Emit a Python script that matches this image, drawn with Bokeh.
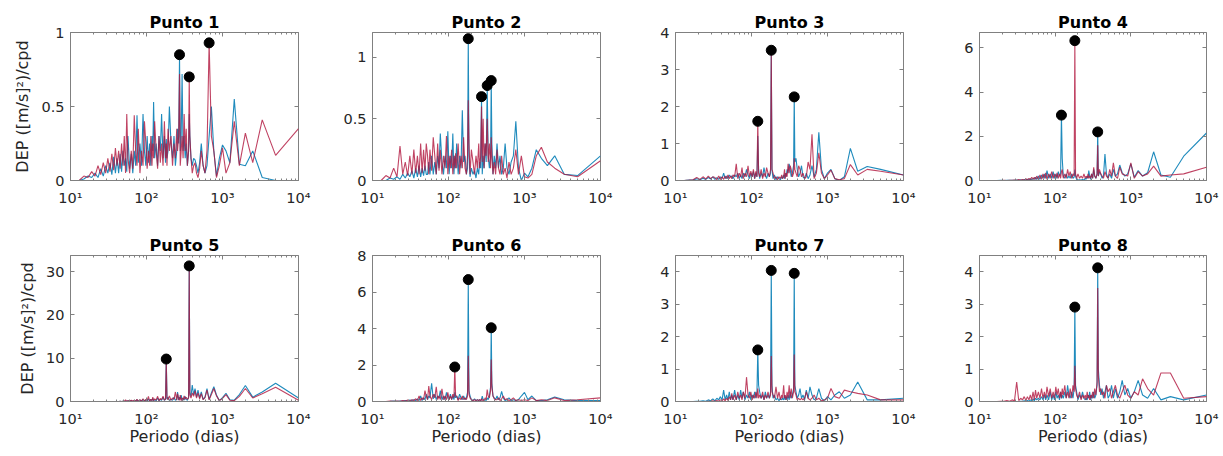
from bokeh.plotting import figure
from bokeh.layouts import column, row
from bokeh.models import Range1d, FixedTicker, LogAxis, LinearAxis, NumeralTickFormatter, CustomJSTickFormatter
from bokeh.embed import file_html
from bokeh.resources import INLINE

# Periodos (dias), mismos para todas las series
periodo = [10000, 5000, 3333, 2500, 2000, 1667, 1429, 1250, 1111, 1000, 909, 833, 769, 714, 667, 625, 588, 556, 526, 500,
           476, 455, 435, 417, 400, 385, 372, 365, 358, 345, 333, 323, 313, 303, 294, 286, 278, 272, 265, 256,
           250, 240, 230, 220, 210, 200, 192, 186, 182, 178, 172, 165, 158, 152, 146, 140, 134, 128, 124, 121,
           118, 114, 110, 106, 102, 98, 94, 90, 86, 82, 78, 75, 72, 69, 66, 63, 60, 57, 55, 53,
           51, 49, 47, 45, 43, 41, 39, 37, 35, 33, 31, 29, 27, 25, 23, 21, 19, 17, 15, 13]

titulos = ["Punto 1", "Punto 2", "Punto 3", "Punto 4", "Punto 5", "Punto 6", "Punto 7", "Punto 8"]
x_ticks = [10, 100, 1000, 10000]
x_tick_labels = ["10¹", "10²", "10³", "10⁴"]
y_maximos = [1.0, 1.2, 4.0, 6.7, 33.7, 8.0, 4.5, 4.5]
y_ticks = [[0, 0.5, 1], [0, 0.5, 1], [0, 1, 2, 3, 4], [0, 2, 4, 6], [0, 10, 20, 30], [0, 2, 4, 6, 8], [0, 1, 2, 3, 4], [0, 1, 2, 3, 4]]

azul_1 = [0.0, 0.0, 0.02, 0.2, 0.1, 0.11, 0.55, 0.12, 0.2, 0.24, 0.15, 0.03, 0.2, 0.5, 0.3, 0.1, 0.05, 0.1, 0.25, 0.12,
          0.05, 0.1, 0.14, 0.15, 0.1, 0.15, 0.3, 0.45, 0.2, 0.1, 0.25, 0.15, 0.3, 0.2, 0.72, 0.3, 0.2, 0.85, 0.25, 0.35,
          0.2, 0.1, 0.3, 0.15, 0.25, 0.5, 0.2, 0.15, 0.28, 0.12, 0.3, 0.15, 0.45, 0.2, 0.3, 0.1, 0.25, 0.15, 0.53, 0.2,
          0.3, 0.1, 0.25, 0.12, 0.3, 0.1, 0.2, 0.45, 0.1, 0.25, 0.12, 0.44, 0.1, 0.2, 0.05, 0.18, 0.08, 0.3, 0.06, 0.15,
          0.1, 0.2, 0.06, 0.18, 0.05, 0.15, 0.05, 0.16, 0.04, 0.12, 0.05, 0.1, 0.03, 0.08, 0.02, 0.05, 0.02, 0.03, 0.01, 0.0]
rojo_1 = [0.35, 0.17, 0.41, 0.12, 0.32, 0.1, 0.4, 0.12, 0.05, 0.22, 0.1, 0.02, 0.2, 0.3, 0.93, 0.2, 0.05, 0.1, 0.2, 0.08,
          0.02, 0.05, 0.12, 0.1, 0.05, 0.15, 0.3, 0.7, 0.2, 0.1, 0.35, 0.2, 0.45, 0.15, 0.3, 0.2, 0.1, 0.72, 0.3, 0.2,
          0.35, 0.15, 0.25, 0.1, 0.3, 0.2, 0.35, 0.1, 0.25, 0.15, 0.4, 0.1, 0.25, 0.12, 0.3, 0.08, 0.2, 0.4, 0.15, 0.25,
          0.1, 0.3, 0.1, 0.2, 0.08, 0.25, 0.4, 0.1, 0.2, 0.05, 0.35, 0.1, 0.2, 0.44, 0.08, 0.2, 0.05, 0.15, 0.45, 0.05,
          0.3, 0.1, 0.25, 0.08, 0.2, 0.1, 0.22, 0.07, 0.18, 0.06, 0.15, 0.05, 0.12, 0.04, 0.1, 0.03, 0.06, 0.02, 0.03, 0.0]

azul_2 = [0.2, 0.04, 0.05, 0.2, 0.12, 0.18, 0.25, 0.1, 0.03, 0.06, 0.0, 0.1, 0.48, 0.2, 0.15, 0.05, 0.1, 0.3, 0.1, 0.05,
          0.2, 0.1, 0.3, 0.1, 0.2, 0.05, 0.3, 0.81, 0.2, 0.1, 0.2, 0.77, 0.15, 0.3, 0.1, 0.2, 0.05, 0.68, 0.1, 0.15,
          0.05, 0.1, 0.02, 0.08, 0.05, 0.1, 0.03, 0.2, 1.15, 0.1, 0.05, 0.2, 0.15, 0.57, 0.1, 0.2, 0.05, 0.3, 0.1, 0.2,
          0.05, 0.38, 0.1, 0.2, 0.05, 0.4, 0.1, 0.2, 0.05, 0.15, 0.38, 0.1, 0.2, 0.05, 0.15, 0.05, 0.2, 0.05, 0.15, 0.05,
          0.05, 0.12, 0.04, 0.1, 0.03, 0.12, 0.03, 0.1, 0.02, 0.08, 0.03, 0.06, 0.02, 0.05, 0.01, 0.03, 0.01, 0.02, 0.0, 0.0]
rojo_2 = [0.16, 0.03, 0.05, 0.1, 0.15, 0.27, 0.2, 0.05, 0.02, 0.03, 0.2, 0.05, 0.25, 0.1, 0.05, 0.15, 0.02, 0.1, 0.05, 0.2,
          0.05, 0.1, 0.25, 0.05, 0.15, 0.05, 0.2, 0.35, 0.1, 0.3, 0.15, 0.5, 0.2, 0.3, 0.1, 0.5, 0.15, 0.6, 0.2, 0.1,
          0.3, 0.1, 0.2, 0.05, 0.15, 0.25, 0.05, 0.3, 0.65, 0.2, 0.05, 0.1, 0.35, 0.1, 0.2, 0.05, 0.3, 0.1, 0.22, 0.1,
          0.2, 0.05, 0.25, 0.1, 0.2, 0.05, 0.36, 0.1, 0.2, 0.05, 0.25, 0.08, 0.3, 0.05, 0.2, 0.35, 0.08, 0.25, 0.05, 0.2,
          0.3, 0.08, 0.25, 0.06, 0.3, 0.05, 0.2, 0.06, 0.25, 0.05, 0.2, 0.04, 0.15, 0.05, 0.28, 0.03, 0.1, 0.02, 0.04, 0.0]

azul_3 = [0.15, 0.3, 0.38, 0.25, 0.87, 0.1, 0.0, 0.05, 0.3, 0.2, 0.05, 0.3, 1.3, 0.3, 0.1, 0.4, 0.15, 0.05, 0.2, 0.05,
          0.1, 0.4, 0.2, 0.1, 0.3, 0.6, 0.5, 2.26, 0.4, 0.2, 0.1, 0.3, 0.45, 0.2, 0.3, 0.1, 0.2, 0.05, 0.15, 0.05,
          0.1, 0.02, 0.05, 0.1, 0.02, 0.15, 0.05, 0.3, 3.4, 0.2, 0.1, 0.2, 0.05, 0.15, 0.35, 0.1, 0.2, 0.05, 0.3, 1.2,
          0.1, 0.2, 0.05, 0.25, 0.1, 0.2, 0.05, 0.15, 0.3, 0.1, 0.2, 0.05, 0.15, 0.05, 0.2, 0.1, 0.15, 0.05, 0.12, 0.1,
          0.15, 0.05, 0.12, 0.05, 0.2, 0.05, 0.1, 0.03, 0.08, 0.03, 0.1, 0.04, 0.08, 0.03, 0.06, 0.02, 0.05, 0.01, 0.01, 0.0]
rojo_3 = [0.15, 0.25, 0.3, 0.15, 0.43, 0.05, 0.02, 0.05, 0.28, 0.15, 0.05, 0.2, 0.75, 0.2, 0.05, 1.25, 0.3, 0.5, 0.1, 0.05,
          0.2, 0.1, 0.3, 0.4, 0.1, 0.2, 0.3, 0.6, 0.2, 0.1, 0.3, 0.4, 0.2, 0.45, 0.1, 0.2, 0.05, 0.3, 0.1, 0.05,
          0.15, 0.05, 0.1, 0.02, 0.1, 0.05, 0.2, 0.3, 3.52, 0.3, 0.1, 0.2, 0.35, 0.1, 0.2, 0.05, 0.3, 0.1, 0.2, 1.6,
          0.1, 0.25, 0.05, 0.3, 0.1, 0.25, 0.1, 0.4, 0.1, 0.2, 0.05, 0.35, 0.1, 0.2, 0.05, 0.45, 0.1, 0.15, 0.05, 0.12,
          0.05, 0.15, 0.05, 0.12, 0.03, 0.1, 0.03, 0.12, 0.02, 0.08, 0.1, 0.05, 0.12, 0.04, 0.1, 0.03, 0.08, 0.02, 0.01, 0.0]

azul_4 = [2.15, 1.1, 0.15, 0.25, 1.3, 0.35, 0.2, 0.45, 0.15, 0.75, 0.3, 0.2, 0.35, 0.7, 0.3, 0.2, 0.5, 0.1, 0.3, 0.1,
          0.3, 1.2, 0.2, 0.1, 0.3, 0.4, 0.2, 2.2, 0.3, 0.1, 0.2, 0.5, 0.1, 0.3, 0.05, 0.2, 0.45, 0.1, 0.2, 0.05,
          0.1, 0.02, 0.05, 0.02, 0.03, 0.02, 0.05, 0.2, 0.5, 0.15, 0.1, 0.3, 0.1, 0.2, 0.1, 0.3, 0.1, 0.2, 1.0, 2.96,
          0.3, 0.2, 0.4, 0.1, 0.3, 0.1, 0.4, 0.1, 0.3, 0.1, 0.45, 0.1, 0.3, 0.1, 0.25, 0.05, 0.2, 0.05, 0.15, 0.05,
          0.1, 0.03, 0.08, 0.02, 0.06, 0.02, 0.04, 0.01, 0.03, 0.01, 0.02, 0.01, 0.01, 0.005, 0.01, 0.0, 0.005, 0.0, 0.0, 0.0]
rojo_4 = [0.6, 0.3, 0.25, 0.2, 0.65, 0.3, 0.2, 0.4, 0.1, 0.8, 0.2, 0.25, 0.3, 0.6, 0.1, 0.2, 0.8, 0.2, 0.5, 0.1,
          0.2, 0.4, 0.1, 0.2, 0.3, 0.5, 0.2, 1.6, 0.3, 0.1, 0.2, 0.6, 0.1, 0.3, 0.1, 0.2, 0.1, 0.3, 0.1, 0.2,
          0.1, 0.3, 0.1, 0.2, 0.1, 0.3, 0.1, 0.3, 6.33, 0.2, 0.3, 0.1, 0.4, 0.2, 0.5, 0.1, 0.3, 0.1, 0.5, 0.4,
          0.1, 0.3, 0.1, 0.35, 0.1, 0.3, 0.1, 0.4, 0.1, 0.3, 0.05, 0.35, 0.1, 0.3, 0.05, 0.25, 0.05, 0.2, 0.05, 0.15,
          0.05, 0.15, 0.03, 0.1, 0.02, 0.08, 0.01, 0.05, 0.01, 0.04, 0.01, 0.02, 0.005, 0.01, 0.0, 0.005, 0.0, 0.0, 0.0, 0.0]

azul_5 = [0.8, 4.2, 2.2, 1.0, 3.7, 1.6, 0.3, 0.4, 1.9, 0.9, 0.2, 1.5, 3.4, 2.0, 0.5, 3.0, 1.0, 0.5, 2.2, 0.8,
          2.6, 1.0, 3.0, 1.5, 3.8, 1.2, 2.0, 31.3, 1.0, 0.3, 0.5, 1.2, 0.3, 0.8, 0.2, 1.5, 0.5, 1.0, 0.3, 2.2,
          0.5, 0.3, 1.0, 0.3, 0.5, 0.2, 1.0, 0.5, 9.8, 0.5, 0.3, 1.0, 0.3, 0.5, 0.2, 0.8, 0.2, 0.4, 0.2, 0.7,
          0.2, 0.5, 0.1, 0.6, 0.1, 0.3, 0.1, 0.5, 0.1, 0.3, 0.05, 0.4, 0.1, 0.2, 0.05, 0.2, 0.05, 0.15, 0.05, 0.1,
          0.02, 0.05, 0.01, 0.02, 0.01, 0.01, 0.0, 0.0, 0.0, 0.0, 0.0, 0.0, 0.0, 0.0, 0.0, 0.0, 0.0, 0.0, 0.0, 0.0]
rojo_5 = [0.3, 3.3, 1.8, 0.8, 3.0, 1.2, 0.2, 0.3, 1.6, 0.7, 0.2, 1.3, 3.0, 1.6, 0.4, 2.6, 0.9, 0.4, 1.8, 0.6,
          2.0, 0.8, 2.5, 1.2, 2.0, 0.8, 1.5, 31.0, 0.8, 0.5, 1.0, 0.5, 1.3, 0.3, 0.8, 0.2, 1.5, 0.3, 0.6, 1.8,
          0.3, 2.2, 0.5, 0.8, 0.3, 1.3, 0.4, 0.8, 9.5, 0.6, 0.3, 1.2, 0.4, 0.7, 0.2, 1.2, 0.3, 0.6, 0.2, 1.0,
          0.2, 0.5, 0.1, 1.2, 0.2, 0.5, 0.1, 0.6, 0.1, 0.4, 0.05, 0.5, 0.1, 0.3, 0.05, 0.3, 0.05, 0.2, 0.05, 0.4,
          0.02, 0.05, 0.01, 0.02, 0.01, 0.0, 0.0, 0.0, 0.0, 0.0, 0.0, 0.0, 0.0, 0.0, 0.0, 0.0, 0.0, 0.0, 0.0, 0.0]

azul_6 = [0.05, 0.05, 0.1, 0.25, 0.1, 0.05, 0.05, 0.3, 0.1, 0.5, 0.3, 0.1, 0.05, 0.1, 0.05, 0.2, 0.1, 0.05, 0.2, 0.55,
          0.2, 0.1, 0.3, 0.1, 0.2, 0.3, 1.0, 4.04, 0.8, 0.3, 0.1, 0.2, 0.05, 0.1, 0.05, 0.1, 0.3, 0.1, 0.05, 0.1,
          0.05, 0.1, 0.05, 0.15, 0.05, 0.1, 0.3, 0.6, 6.68, 0.5, 0.2, 0.1, 0.3, 0.1, 0.2, 0.4, 0.1, 0.3, 0.2, 0.5,
          0.1, 0.3, 0.1, 0.4, 0.1, 0.2, 0.5, 0.1, 0.3, 0.1, 0.6, 0.2, 0.3, 0.1, 0.4, 0.15, 1.0, 0.2, 0.3, 0.1,
          0.4, 0.1, 0.2, 0.05, 0.3, 0.05, 0.15, 0.05, 0.1, 0.05, 0.08, 0.02, 0.05, 0.02, 0.03, 0.01, 0.02, 0.01, 0.0, 0.0]
rojo_6 = [0.2, 0.1, 0.05, 0.2, 0.05, 0.1, 0.05, 0.2, 0.05, 0.1, 0.05, 0.1, 0.05, 0.2, 0.1, 0.05, 0.15, 0.1, 0.3, 0.15,
          0.05, 0.2, 0.1, 0.1, 0.15, 0.3, 0.8, 2.3, 0.6, 0.2, 0.3, 0.65, 0.1, 0.2, 0.05, 0.1, 0.05, 0.15, 0.05, 0.1,
          0.05, 0.1, 0.05, 0.1, 0.05, 0.1, 0.2, 0.4, 2.5, 0.3, 0.1, 0.2, 0.1, 0.3, 0.1, 0.2, 0.05, 0.3, 0.3, 1.89,
          0.2, 0.4, 0.1, 0.3, 0.1, 0.5, 0.1, 0.3, 0.1, 0.7, 0.1, 0.3, 0.1, 0.8, 0.2, 0.4, 0.1, 0.3, 0.85, 0.1,
          0.3, 0.6, 0.1, 0.2, 0.05, 0.3, 0.05, 0.15, 0.05, 0.1, 0.02, 0.08, 0.02, 0.05, 0.01, 0.03, 0.01, 0.02, 0.0, 0.0]

azul_7 = [0.1, 0.05, 0.05, 0.6, 0.2, 0.1, 0.3, 0.2, 0.05, 0.15, 0.02, 0.1, 0.4, 0.1, 0.05, 0.2, 0.45, 0.1, 0.35, 0.05,
          0.2, 0.1, 0.4, 0.2, 0.1, 0.3, 0.5, 3.95, 0.4, 0.2, 0.1, 0.3, 0.05, 0.2, 0.05, 0.15, 0.05, 0.2, 0.05, 0.1,
          0.05, 0.1, 0.02, 0.1, 0.05, 0.2, 0.1, 0.5, 4.04, 0.3, 0.1, 0.2, 0.1, 0.3, 0.05, 0.2, 0.1, 0.3, 0.5, 1.59,
          0.3, 0.1, 0.3, 0.1, 0.2, 0.05, 0.3, 0.1, 0.2, 0.05, 0.3, 0.1, 0.35, 0.05, 0.2, 0.05, 0.35, 0.05, 0.2, 0.05,
          0.3, 0.05, 0.2, 0.05, 0.35, 0.05, 0.15, 0.05, 0.1, 0.02, 0.08, 0.02, 0.05, 0.01, 0.02, 0.01, 0.01, 0.0, 0.0, 0.0]
rojo_7 = [0.05, 0.05, 0.2, 0.25, 0.3, 0.35, 0.1, 0.15, 0.4, 0.1, 0.05, 0.02, 0.1, 0.05, 0.2, 0.1, 0.05, 0.1, 0.3, 0.1,
          0.05, 0.1, 0.05, 0.1, 0.05, 0.2, 0.3, 1.45, 0.3, 0.1, 0.4, 0.1, 0.5, 0.1, 0.3, 0.05, 0.2, 0.1, 0.5, 0.1,
          0.2, 0.05, 0.3, 0.1, 0.45, 0.1, 0.2, 0.3, 1.4, 0.2, 0.1, 0.3, 0.1, 0.2, 0.05, 0.3, 0.1, 0.2, 0.1, 0.4,
          0.1, 0.3, 0.1, 0.2, 0.05, 0.3, 0.1, 0.2, 0.75, 0.1, 0.3, 0.05, 0.2, 0.1, 0.3, 0.05, 0.2, 0.05, 0.25, 0.05,
          0.15, 0.03, 0.1, 0.02, 0.08, 0.02, 0.05, 0.01, 0.03, 0.01, 0.02, 0.0, 0.01, 0.0, 0.0, 0.0, 0.0, 0.0, 0.0, 0.0]

azul_8 = [0.2, 0.05, 0.15, 0.05, 0.4, 0.1, 0.2, 0.65, 0.3, 0.1, 0.4, 0.2, 0.65, 0.3, 0.1, 0.4, 0.1, 0.5, 0.2, 0.1,
          0.5, 0.3, 0.1, 0.4, 0.2, 0.5, 1.0, 4.12, 0.5, 0.2, 0.1, 0.3, 0.1, 0.2, 0.05, 0.3, 0.1, 0.2, 0.05, 0.1,
          0.05, 0.1, 0.3, 0.1, 0.2, 0.05, 0.3, 0.5, 2.91, 0.4, 0.1, 0.3, 0.1, 0.2, 0.5, 0.1, 0.3, 0.1, 0.2, 0.1,
          0.3, 0.05, 0.2, 0.1, 0.3, 0.05, 0.2, 0.05, 0.3, 0.05, 0.2, 0.05, 0.2, 0.05, 0.15, 0.05, 0.1, 0.05, 0.1, 0.02,
          0.08, 0.02, 0.05, 0.01, 0.03, 0.01, 0.02, 0.01, 0.01, 0.0, 0.0, 0.0, 0.0, 0.0, 0.0, 0.0, 0.0, 0.0, 0.0, 0.0]
rojo_8 = [0.15, 0.1, 0.88, 0.88, 0.2, 0.4, 0.7, 0.2, 0.3, 0.1, 0.2, 0.5, 0.3, 0.1, 0.2, 0.5, 0.3, 0.1, 0.4, 0.3,
          0.5, 0.1, 0.3, 0.2, 0.4, 0.3, 0.8, 3.5, 0.6, 0.2, 0.4, 0.1, 0.3, 0.1, 0.2, 0.05, 0.2, 0.1, 0.3, 0.05,
          0.2, 0.1, 0.2, 0.05, 0.3, 0.1, 0.2, 0.4, 1.1, 0.3, 0.5, 0.1, 0.4, 0.1, 0.3, 0.1, 0.5, 0.2, 0.4, 0.1,
          0.3, 0.1, 0.4, 0.2, 0.45, 0.1, 0.3, 0.1, 0.4, 0.15, 0.45, 0.1, 0.3, 0.1, 0.4, 0.1, 0.3, 0.1, 0.35, 0.05,
          0.3, 0.05, 0.2, 0.05, 0.15, 0.03, 0.15, 0.05, 0.1, 0.03, 0.6, 0.02, 0.05, 0.01, 0.03, 0.01, 0.01, 0.0, 0.0, 0.0]

picos_x = [[272, 365, 667], [182, 272, 323, 365], [121, 182, 365], [121, 182, 365],
           [182, 365], [121, 182, 365], [121, 182, 365], [182, 365]]
picos_y = [[0.85, 0.70, 0.93], [1.15, 0.68, 0.77, 0.81], [1.6, 3.52, 2.26], [2.96, 6.33, 2.2],
           [9.8, 31.3], [1.89, 6.68, 4.04], [1.59, 4.04, 3.95], [2.91, 4.12]]

azules = [azul_1, azul_2, azul_3, azul_4, azul_5, azul_6, azul_7, azul_8]
rojos = [rojo_1, rojo_2, rojo_3, rojo_4, rojo_5, rojo_6, rojo_7, rojo_8]

FONT = "DejaVu Sans"
AXC = "#808080"
TXT = "#262626"
AZUL = "#1f8bbd"
ROJO = "#b0143c"

x_minor = [m * d for d in (10, 100, 1000) for m in range(2, 10)]

# (ancho, borde izq, borde der) por columna
col_dims = [(311, 70, 13), (303, 61, 14), (303, 61, 14), (303, 62, 14)]
blank = CustomJSTickFormatter(code="return ''")


def make_panel(i):
    r, c = divmod(i, 4)
    w, bl, br = col_dims[c]
    if r == 0:
        h, bt, bb = 231, 32, 51
    else:
        h, bt, bb = 217, 24, 45
    p = figure(width=w, height=h, x_axis_type="log",
               x_range=Range1d(10, 10000), y_range=Range1d(0, y_maximos[i]),
               output_backend="svg", toolbar_location=None,
               min_border_left=bl, min_border_right=br, min_border_top=bt, min_border_bottom=bb)
    p.title.text = titulos[i]
    p.title.align = "center"
    p.title.text_font = FONT
    p.title.text_font_size = "16px"
    p.title.text_font_style = "bold"
    p.title.text_color = "black"
    p.title.standoff = 2
    p.grid.visible = False
    p.outline_line_color = AXC
    p.outline_line_width = 1
    p.background_fill_color = "white"
    p.border_fill_color = "white"

    xt = FixedTicker(ticks=x_ticks, minor_ticks=x_minor)
    yt = FixedTicker(ticks=y_ticks[i])
    p.xaxis.ticker = xt
    p.xaxis.major_label_overrides = {t: lab for t, lab in zip(x_ticks, x_tick_labels)}
    p.yaxis.ticker = yt
    p.yaxis.formatter = NumeralTickFormatter(format="0.[0]")
    for ax in (p.xaxis[0], p.yaxis[0]):
        ax.axis_line_color = AXC
        ax.major_tick_line_color = AXC
        ax.minor_tick_line_color = AXC
        ax.major_tick_in = 4
        ax.major_tick_out = 0
        ax.minor_tick_in = 2
        ax.minor_tick_out = 0
        ax.major_label_text_font = FONT
        ax.major_label_text_font_size = "14.5px"
        ax.major_label_text_color = TXT
        ax.axis_label_text_font = FONT
        ax.axis_label_text_font_size = "16px"
        ax.axis_label_text_font_style = "normal"
        ax.axis_label_text_color = TXT
    p.xaxis.major_label_standoff = 9
    p.yaxis.major_label_standoff = 6
    if c == 0:
        p.yaxis.axis_label = "DEP ([m/s]²)/cpd"
        p.yaxis.axis_label_standoff = 6
    if r == 1:
        p.xaxis.axis_label = "Periodo (dias)"
        p.xaxis.axis_label_standoff = -3

    top = LogAxis(ticker=xt, formatter=blank, major_label_text_font_size="1px", axis_line_color=None,
                  major_tick_in=4, major_tick_out=0, minor_tick_in=2, minor_tick_out=0,
                  major_tick_line_color=AXC, minor_tick_line_color=AXC, major_label_standoff=0)
    right = LinearAxis(ticker=yt, formatter=blank, major_label_text_font_size="1px", axis_line_color=None,
                       major_tick_in=4, major_tick_out=0, minor_tick_line_color=None,
                       major_tick_line_color=AXC, major_label_standoff=0)
    p.add_layout(top, "above")
    p.add_layout(right, "right")

    p.line(periodo, azules[i], line_color=AZUL, line_width=1.1)
    p.line(periodo, rojos[i], line_color=ROJO, line_width=1.1, line_alpha=0.8)
    p.scatter(picos_x[i], picos_y[i], size=10, marker="circle", fill_color="black", line_color="black")
    return p


panels = [make_panel(i) for i in range(8)]
layout = column(row(*panels[:4]), row(*panels[4:]))
open("out.html", "w").write(file_html(layout, INLINE))
